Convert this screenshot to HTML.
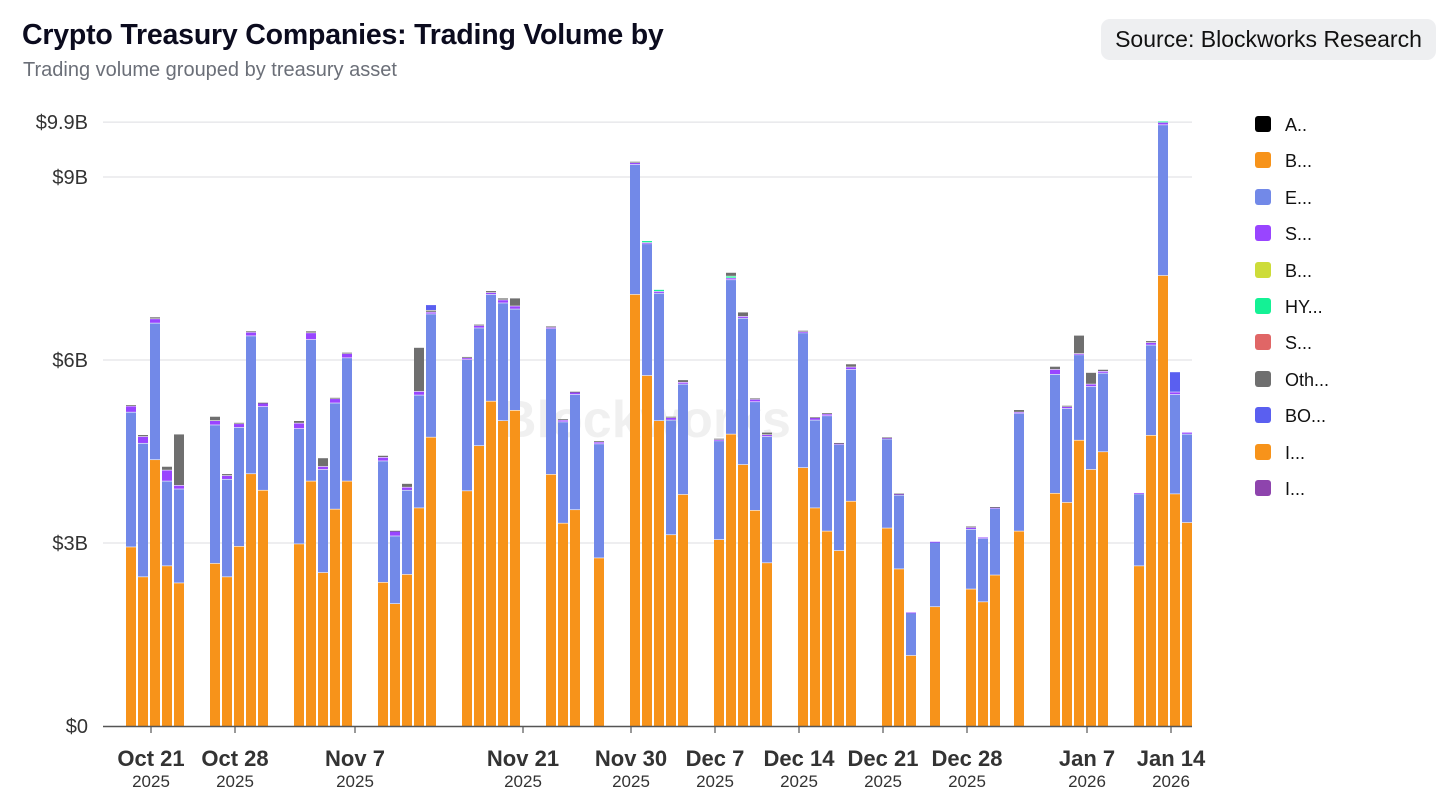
<!DOCTYPE html>
<html><head><meta charset="utf-8"><style>
body{margin:0;background:#fff;font-family:"Liberation Sans",sans-serif;}
#wrap{position:relative;width:1456px;height:809px;overflow:hidden;}
.title{position:absolute;left:22px;top:19px;font-size:28.5px;font-weight:bold;color:#0b0b1e;letter-spacing:-0.2px;}
.sub{position:absolute;left:23px;top:59px;font-size:20px;color:#6b6f78;}
.src{position:absolute;left:1101px;top:19px;width:335px;height:41px;border-radius:9px;background:#eeeff1;font-size:23px;color:#111;line-height:41px;text-align:center;}
.leg{position:absolute;left:1255px;font-size:18px;color:#111;height:18px;line-height:18px;}
.leg span.sw{display:inline-block;width:16px;height:16px;border-radius:3px;vertical-align:top;margin-right:14px;}
</style></head><body>
<div id="wrap">
<div class="title">Crypto Treasury Companies: Trading Volume by</div>
<div class="sub">Trading volume grouped by treasury asset</div>
<div class="src">Source: Blockworks Research</div>
<svg id="chart" width="1456" height="809" style="position:absolute;left:0;top:0"></svg>
<div id="legend"></div>
</div>
<script>
const dayIndex=[0,1,2,3,4,7,8,9,10,11,14,15,16,17,18,21,22,23,24,25,28,29,30,31,32,35,36,37,39,42,43,44,45,46,49,50,51,52,53,56,57,58,59,60,63,64,65,67,70,71,72,74,77,78,79,80,81,84,85,86,87,88];
const btc=[2.93,2.44,4.36,2.62,2.34,2.66,2.44,2.94,4.13,3.86,2.98,4.01,2.51,3.55,4.01,2.35,2.00,2.48,3.57,4.73,3.85,4.59,5.32,5.00,5.17,4.12,3.32,3.54,2.75,7.07,5.74,5.00,3.13,3.79,3.05,4.78,4.28,3.53,2.67,4.23,3.57,3.19,2.87,3.68,3.24,2.57,1.15,1.95,2.24,2.03,2.47,3.19,3.81,3.66,4.68,4.20,4.49,2.62,4.76,7.38,3.80,3.33];
const eth=[2.21,2.19,2.24,1.39,1.54,2.27,1.60,1.95,2.26,1.37,1.89,2.32,1.69,1.74,2.02,1.99,1.11,1.38,1.85,2.02,2.15,1.93,1.75,1.93,1.66,2.39,1.66,1.89,1.87,2.13,2.16,2.09,1.88,1.81,1.62,2.53,2.40,1.78,2.07,2.21,1.44,1.89,1.74,2.16,1.46,1.21,0.70,1.06,0.98,1.04,1.09,1.93,1.95,1.54,1.40,1.36,1.29,1.18,1.48,2.47,1.63,1.45];
const sol=[.10,.11,.07,.18,.06,.07,.06,.06,.06,.06,.09,.11,.05,.07,.07,.06,.08,.05,.06,.03,.03,.04,.03,.05,.05,.02,.03,.04,.03,.03,.02,.03,.04,.03,.02,.03,.03,.04,.03,.02,.04,.03,.02,.04,.02,.02,.01,.01,.03,.02,.02,.02,.08,.03,.02,.04,.03,.02,.04,.04,.04,.03];
const hype=[0,0,0,0,0,0,0,0,0,0,0,0,0,0,0,0,0,0,0,0,0,0,0,0,0,0,0,0,0,0,.03,.03,0,0,0,.03,0,0,0,0,0,0,0,0,0,0,0,0,0,0,0,0,0,0,0,0,0,0,0,.02,0,0];
const other=[.02,.03,.03,.06,.84,.07,.03,.02,.02,.01,.04,.03,.14,.02,.02,.03,.01,.06,.72,.03,.02,.02,.03,.03,.13,.02,.02,.01,.02,.02,0,0,.02,.04,.02,.06,.07,.02,.04,.02,.01,.02,.01,.05,.01,.01,0,0,.02,0,.01,.04,.05,.02,.30,.19,.03,0,.03,0,0,0];
const bo=[0,0,0,0,0,0,0,0,0,0,0,0,0,0,0,0,0,0,0,.09,0,0,0,0,0,0,0,0,0,0,0,0,0,0,0,0,0,0,0,0,0,0,0,0,0,0,0,0,0,0,0,0,0,0,0,0,0,0,0,0,.33,0];
const yTicks=[0,3,6,9,9.9];
const yTickLabels=["$0","$3B","$6B","$9B","$9.9B"];
const xTickDays=[1,8,18,32,41,48,55,62,69,79,86];
const xTickLabels=["Oct 21","Oct 28","Nov 7","Nov 21","Nov 30","Dec 7","Dec 14","Dec 21","Dec 28","Jan 7","Jan 14"];
const xTickYears=["2025","2025","2025","2025","2025","2025","2025","2025","2025","2026","2026"];
const legendNames=["A..","B...","E...","S...","B...","HY...","S...","Oth...","BO...","I...","I..."];
const legendColors=["#000000","#f7931a","#7289e8","#9945ff","#cddc39","#14f195","#e06666","#6f6f6f","#5a5ff0","#f7931a","#8e44ad"];

const NS="http://www.w3.org/2000/svg";
const svg=document.getElementById('chart');
const y=v=>726-v*61;
const x=d=>131+12*d;
function mk(t,a){const e=document.createElementNS(NS,t);for(const k in a)e.setAttribute(k,a[k]);svg.appendChild(e);return e;}
let wm=mk('text',{x:645,y:437,'text-anchor':'middle','font-size':52,'font-weight':'bold',fill:'#000','fill-opacity':0.06,'font-family':'Liberation Sans, sans-serif'});
wm.textContent='Blockworks';


yTicks.forEach((v,i)=>{
 if(v>0){const g=mk('line',{x1:103,x2:1192,y1:y(v),y2:y(v),stroke:'#e3e4e7','stroke-width':1.2});
 
 }
 const t=mk('text',{x:88,y:y(v)+7,'text-anchor':'end','font-size':20,fill:'#333','font-family':'Liberation Sans, sans-serif'});
 t.textContent=yTickLabels[i];
 
 
});
const series=[[btc,'#f7931a'],[eth,'#7289e8'],[sol,'#9945ff'],[hype,'#14f195'],[other,'#6f6f6f'],[bo,'#5a5ff0']];
dayIndex.forEach((d,i)=>{
 let base=0;
 series.forEach(([arr,c])=>{
  const v=arr[i]; if(!v) return;
  const r=mk('rect',{x:x(d)-5,y:y(base+v),width:10,height:Math.max(v*61-(base>0?0.6:0),0.8),fill:c});
  
  
  base+=v;
 });
});
const ax=mk('line',{x1:103,x2:1192,y1:726.5,y2:726.5,stroke:'#555','stroke-width':1.5});


xTickDays.forEach((d,i)=>{
 const tx=x(d)+8;
 const tk=mk('line',{x1:tx,x2:tx,y1:727,y2:733,stroke:'#555','stroke-width':1.2});
 
 
 const t=mk('text',{x:tx,y:766,'text-anchor':'middle','font-size':22,'font-weight':'bold',fill:'#333','font-family':'Liberation Sans, sans-serif'});
 t.textContent=xTickLabels[i];
 
 
 const t2=mk('text',{x:tx,y:787,'text-anchor':'middle','font-size':17,fill:'#333','font-family':'Liberation Sans, sans-serif'});
 t2.textContent=xTickYears[i];
 
 
});
const lg=document.getElementById('legend');
legendNames.forEach((n,i)=>{
 const d=document.createElement('div');
 d.className='leg';
 d.style.top=(116+i*36.4)+'px';
 d.innerHTML='<span class="sw" style="background:'+legendColors[i]+'"></span>'+n;
 
 
 lg.appendChild(d);
});
</script>
</body></html>
